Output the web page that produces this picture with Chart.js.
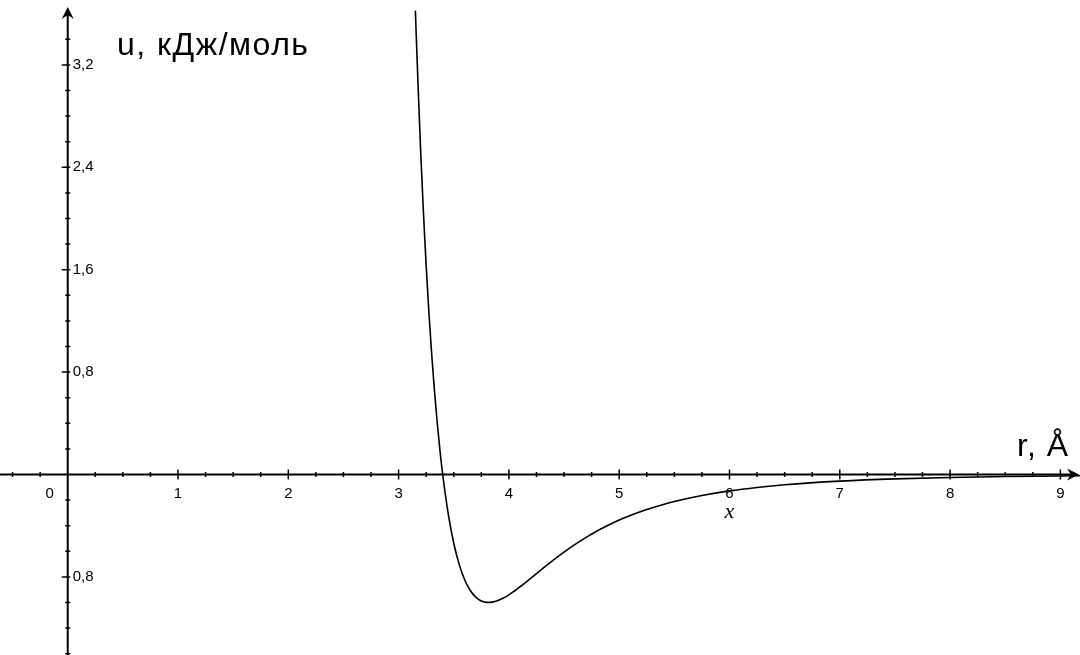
<!DOCTYPE html>
<html>
<head>
<meta charset="utf-8">
<script src="https://cdn.jsdelivr.net/npm/chart.js@4.4.0/dist/chart.umd.min.js"></script>
<style>
  html, body { margin: 0; padding: 0; background: #fff; }
  canvas { display: block; }
</style>
</head>
<body>
<canvas id="ljChart" width="1080" height="655"></canvas>
<script>
// distance r, Å and potential u, кДж/моль
const rValues = [3.152, 3.175, 3.2, 3.225, 3.25, 3.275, 3.3, 3.325, 3.35, 3.375, 3.4,
  3.45, 3.5, 3.55, 3.6, 3.65, 3.7, 3.75, 3.8, 3.85, 3.9, 3.95, 4.0, 4.05, 4.1, 4.15, 4.2,
  4.3, 4.4, 4.5, 4.6, 4.7, 4.8, 4.9, 5.0, 5.1, 5.25, 5.4, 5.5, 5.75, 6.0, 6.25, 6.5,
  7.0, 7.5, 8.0, 8.5, 9.0, 9.2];
const uValues = [3.624, 3.073, 2.525, 2.049, 1.630, 1.262, 0.939, 0.655, 0.406, 0.189, 0,
  -0.307, -0.537, -0.704, -0.824, -0.906, -0.958, -0.988, -0.999, -0.997, -0.985, -0.965, -0.940, -0.910, -0.878, -0.844, -0.809,
  -0.739, -0.670, -0.606, -0.546, -0.491, -0.441, -0.397, -0.356, -0.320, -0.273, -0.234, -0.211, -0.164, -0.128, -0.101, -0.080,
  -0.052, -0.034, -0.023, -0.016, -0.012, -0.010];

const xTickValues = [0, 1, 2, 3, 4, 5, 6, 7, 8, 9];
const xTickLabels = ['0', '1', '2', '3', '4', '5', '6', '7', '8', '9'];
const yTickValues = [-0.8, 0.8, 1.6, 2.4, 3.2];
const yTickLabels = ['0,8', '0,8', '1,6', '2,4', '3,2'];

const xTitle = 'r, Å';
const yTitle = 'u, кДж/моль';
const curveLabel = 'x';

const axesPlugin = {
  id: 'axes',
  beforeDatasetsDraw(chart) {
    const ctx = chart.ctx;
    const xs = chart.scales.x, ys = chart.scales.y;
    const x0 = xs.getPixelForValue(0), y0 = ys.getPixelForValue(0);
    const W = chart.width, H = chart.height;
    ctx.save();
    ctx.strokeStyle = '#000';
    ctx.fillStyle = '#000';
    ctx.lineWidth = 2;

    // axis lines
    ctx.beginPath();
    ctx.moveTo(0, y0); ctx.lineTo(W - 4, y0);
    ctx.moveTo(x0, H); ctx.lineTo(x0, 10);
    ctx.stroke();

    // arrow heads
    ctx.beginPath();
    ctx.moveTo(W - 1, y0); ctx.lineTo(W - 13, y0 - 6); ctx.lineTo(W - 9, y0); ctx.lineTo(W - 13, y0 + 6);
    ctx.closePath(); ctx.fill();
    ctx.beginPath();
    ctx.moveTo(x0, 7); ctx.lineTo(x0 - 6, 19); ctx.lineTo(x0, 15); ctx.lineTo(x0 + 6, 19);
    ctx.closePath(); ctx.fill();

    // x ticks, every 0.25
    ctx.lineWidth = 1.5;
    ctx.beginPath();
    for (let i = -2; i <= 37; i++) {
      const v = i / 4;
      if (v === 0) continue;
      const px = xs.getPixelForValue(v);
      const h = (i % 4 === 0) ? 5 : 2.5;
      ctx.moveTo(px, y0 - h); ctx.lineTo(px, y0 + h);
    }
    // y ticks, every 0.2
    for (let i = -7; i <= 17; i++) {
      if (i === 0) continue;
      const py = ys.getPixelForValue(i / 5);
      if (i % 4 === 0) { ctx.moveTo(x0 - 6, py); ctx.lineTo(x0 + 2.5, py); }
      else { ctx.moveTo(x0 - 2.5, py); ctx.lineTo(x0 + 2.5, py); }
    }
    ctx.stroke();

    // tick labels
    ctx.font = '15px "Liberation Sans", Arial, sans-serif';
    ctx.textBaseline = 'middle';
    ctx.textAlign = 'center';
    xTickValues.forEach((v, i) => {
      const px = v === 0 ? x0 - 18 : xs.getPixelForValue(v);
      ctx.fillText(xTickLabels[i], px, y0 + 19);
    });
    ctx.textAlign = 'left';
    yTickValues.forEach((v, i) => {
      ctx.fillText(yTickLabels[i], x0 + 5, ys.getPixelForValue(v));
    });

    // axis titles
    ctx.textBaseline = 'alphabetic';
    ctx.font = '32px "Liberation Sans", Arial, sans-serif';
    ctx.letterSpacing = '1.5px';
    ctx.fillText(yTitle, 117, 55);
    ctx.letterSpacing = '1px';
    ctx.fillText(xTitle, 1017, 456);
    ctx.letterSpacing = '0px';

    ctx.font = 'italic 22px "Liberation Serif", "DejaVu Serif", serif';
    ctx.textAlign = 'center';
    ctx.fillText(curveLabel, xs.getPixelForValue(6), 518);
    ctx.restore();
  }
};

new Chart(document.getElementById('ljChart'), {
  type: 'scatter',
  data: {
    datasets: [{
      data: rValues.map((r, i) => ({ x: r, y: uValues[i] })),
      showLine: true,
      borderColor: '#000',
      borderWidth: 1.6,
      pointRadius: 0,
      cubicInterpolationMode: 'monotone',
      fill: false
    }]
  },
  options: {
    responsive: false,
    animation: false,
    layout: { padding: 0 },
    plugins: { legend: { display: false }, tooltip: { enabled: false } },
    scales: {
      x: { type: 'linear', min: -0.614, max: 9.178, display: false },
      y: { type: 'linear', min: -1.41, max: 3.707, display: false }
    }
  },
  plugins: [axesPlugin]
});
</script>
</body>
</html>
